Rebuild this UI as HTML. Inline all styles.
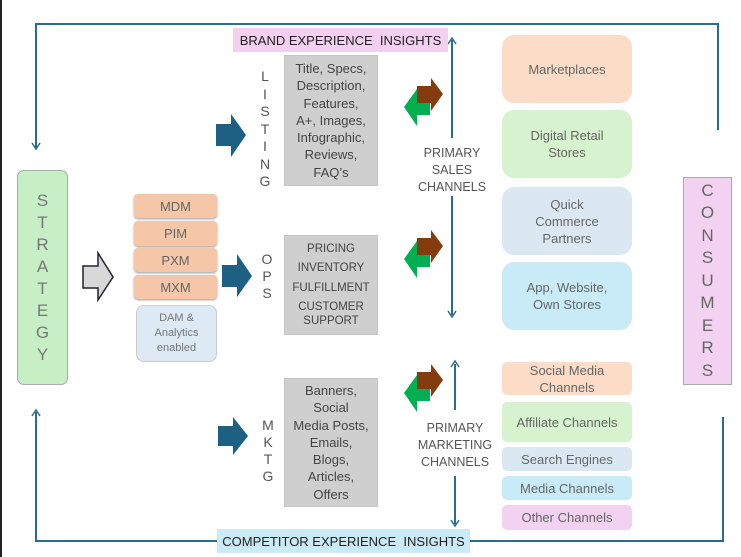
<!DOCTYPE html>
<html><head><meta charset="utf-8"><style>
body{margin:0;width:741px;height:557px;background:#fff;position:relative;overflow:hidden;font-family:"Liberation Sans",sans-serif;color:#555}
div.a{position:absolute;box-sizing:border-box;display:flex;align-items:center;justify-content:center;text-align:center}
.g{background:#cfcfcf;color:#444;border:1px solid #c4c4c4}
.o{background:#f5c6a8;border-radius:4px;font-size:13px;color:#666;box-shadow:0 1px 2px #999}
.r{border-radius:12px;font-size:13px;color:#666;line-height:17px}
.s{border-radius:5px;font-size:13px;color:#666;line-height:17px}
.v{position:absolute;font-size:14px;color:#555;text-align:center;line-height:17px}
</style></head><body>
<div style="position:absolute;left:0;top:0;width:2px;height:557px;background:#222"></div>
<svg width="741" height="557" style="position:absolute;left:0;top:0">
<g stroke="#2a6b8e" stroke-width="2" fill="none">
<polyline points="36,148 36,24 718,24 718,130"/>
<polyline points="36,412 36,541 218,541"/>
<polyline points="470,541 723,541 723,417"/>
<line x1="452" y1="40" x2="452" y2="138"/><line x1="452" y1="182" x2="452" y2="315"/>
<line x1="455" y1="364" x2="455" y2="410"/><line x1="455" y1="476" x2="455" y2="524"/>
</g>
<g stroke="#2a6b8e" stroke-width="1.5" fill="none">
<path d="M32,143 L36,149 L40,143"/><path d="M32,416 L36,410 L40,416"/>
<path d="M448,44 L452,38 L456,44"/><path d="M448,311 L452,317 L456,311"/>
<path d="M451,367 L455,361 L459,367"/><path d="M451,520 L455,526 L459,520"/>
</g>
<path d="M83,266 L98,266 L98,253 L113,277 L98,300 L98,288 L83,288Z" fill="#d8d8d8" stroke="#223" stroke-width="1.5"/>
<g fill="#1e5f84">
<path d="M216,124 L231,124 L231,114 L246,135 L231,157 L231,146 L216,146Z"/>
<path d="M222,265 L237,265 L237,254 L252,276 L237,297 L237,287 L222,287Z"/>
<path d="M218,426 L233,426 L233,417 L248,436 L233,455 L233,446 L218,446Z"/>
</g>
<g id="p1">
<path d="M430,100 L417,100 L417,89 L404,107 L417,126 L417,115 L430,115Z" fill="#00b050"/>
<path d="M417,86 L431,86 L431,78 L443,94 L431,111 L431,103 L417,103Z" fill="#843c0f"/>
</g>
<use href="#p1" transform="translate(0,152)"/>
<use href="#p1" transform="translate(0,286)"/>
</svg>
<div class="a" style="left:233px;top:28px;width:215px;height:24px;background:#f4d0f0;font-size:13px;color:#222">BRAND EXPERIENCE&nbsp; INSIGHTS</div>
<div class="a" style="left:217px;top:529px;width:253px;height:24px;background:#c9eaf6;font-size:13px;color:#222">COMPETITOR EXPERIENCE&nbsp; INSIGHTS</div>
<div class="a" style="left:17px;top:170px;width:51px;height:215px;background:#c6efc6;border:1px solid #aaa;border-radius:7px;font-size:17px;line-height:22px;color:#777">S<br>T<br>R<br>A<br>T<br>E<br>G<br>Y</div>
<div class="a o" style="left:134px;top:194px;width:83px;height:24px">MDM</div>
<div class="a o" style="left:134px;top:221px;width:83px;height:25px">PIM</div>
<div class="a o" style="left:134px;top:248px;width:83px;height:24px">PXM</div>
<div class="a o" style="left:134px;top:275px;width:83px;height:24px">MXM</div>
<div class="a" style="left:136px;top:305px;width:81px;height:57px;background:#dde9f5;border:1px solid #ccc;border-radius:8px;font-size:11px;line-height:15px;color:#777">DAM &amp;<br>Analytics<br>enabled</div>
<div class="v" style="left:258px;top:68px;width:14px;line-height:17.5px">L<br>I<br>S<br>T<br>I<br>N<br>G</div>
<div class="v" style="left:260px;top:251px;width:14px">O<br>P<br>S</div>
<div class="v" style="left:261px;top:417px;width:14px">M<br>K<br>T<br>G</div>
<div class="a g" style="left:284px;top:55px;width:94px;height:131px;font-size:13px;line-height:17.3px">Title, Specs,<br>Description,<br>Features,<br>A+, Images,<br>Infographic,<br>Reviews,<br>FAQ’s</div>
<div class="a g" style="left:284px;top:235px;width:94px;height:100px;font-size:11.5px;line-height:14px;flex-direction:column;justify-content:space-around;padding:3px 0">
<span>PRICING</span><span>INVENTORY</span><span>FULFILLMENT</span><span>CUSTOMER<br>SUPPORT</span></div>
<div class="a g" style="left:284px;top:378px;width:94px;height:129px;font-size:13px;line-height:17.3px">Banners,<br>Social<br>Media Posts,<br>Emails,<br>Blogs,<br>Articles,<br>Offers</div>
<div class="v" style="left:408px;top:145px;width:88px;font-size:12.5px;background:#fff">PRIMARY<br>SALES<br>CHANNELS</div>
<div class="v" style="left:408px;top:420px;width:94px;font-size:12.5px;background:#fff">PRIMARY<br>MARKETING<br>CHANNELS</div>
<div class="a r" style="left:502px;top:35px;width:130px;height:68px;background:#fcdcc6">Marketplaces</div>
<div class="a r" style="left:502px;top:110px;width:130px;height:68px;background:#d6f2cf">Digital Retail<br>Stores</div>
<div class="a r" style="left:502px;top:187px;width:130px;height:68px;background:#dbe8f4">Quick<br>Commerce<br>Partners</div>
<div class="a r" style="left:502px;top:262px;width:130px;height:68px;background:#c8ebf7">App, Website,<br>Own Stores</div>
<div class="a s" style="left:502px;top:362px;width:130px;height:33px;background:#fcdcc6">Social Media<br>Channels</div>
<div class="a s" style="left:502px;top:402px;width:130px;height:40px;background:#d6f2cf">Affiliate Channels</div>
<div class="a s" style="left:502px;top:447px;width:130px;height:24px;background:#dbe8f4">Search Engines</div>
<div class="a s" style="left:502px;top:476px;width:130px;height:24px;background:#c8ebf7">Media Channels</div>
<div class="a s" style="left:502px;top:505px;width:130px;height:25px;background:#f2d2f0">Other Channels</div>
<div class="a" style="left:683px;top:177px;width:49px;height:208px;background:#f2d2f0;border:1px solid #aaa;font-size:17px;line-height:22.5px;color:#666">C<br>O<br>N<br>S<br>U<br>M<br>E<br>R<br>S</div>
</body></html>
